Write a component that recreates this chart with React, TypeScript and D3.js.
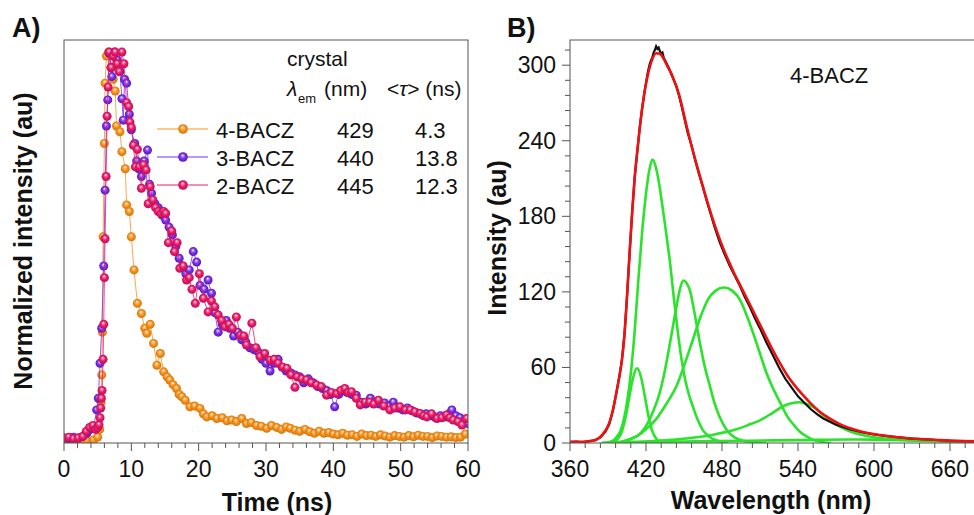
import React from "react";
import * as d3 from "d3";

const FONT = "'Liberation Sans', Arial, Helvetica, sans-serif";

// ---------------- Panel A : decay traces [time (ns), normalized intensity] ----------------
const decay4BACZ: [number, number][] = [
  [0, 0.002], [1.1, 0.002], [2.2, 0.002], [3.3, 0.002], [4.4, 0.003], [5.0, 0.01], [5.3, 0.03], [5.5, 0.1],
  [5.6, 0.17], [5.7, 0.28], [5.8, 0.525], [6.0, 0.765], [6.1, 0.92], [6.3, 0.99], [6.6, 1.0], [7.0, 0.96],
  [7.3, 0.93], [7.6, 0.9], [7.8, 0.81], [8.3, 0.795], [8.6, 0.744], [9.1, 0.7], [9.3, 0.607], [9.7, 0.59],
  [10.0, 0.525], [10.4, 0.44], [10.9, 0.354], [11.5, 0.328], [12.0, 0.29], [12.3, 0.277], [12.8, 0.3],
  [13.3, 0.251], [13.8, 0.195], [14.3, 0.225], [14.8, 0.178], [15.3, 0.165], [15.7, 0.157], [16.2, 0.145],
  [16.7, 0.135], [17.1, 0.12], [17.5, 0.114], [18.0, 0.105], [18.7, 0.088], [19.4, 0.09], [20.2, 0.084],
  [20.7, 0.07], [21.2, 0.062], [22.0, 0.065], [22.7, 0.058], [23.5, 0.06], [24.2, 0.052], [24.9, 0.054],
  [25.6, 0.05], [26.4, 0.058], [27.1, 0.045], [27.8, 0.048], [28.6, 0.04], [29.3, 0.038], [30.1, 0.033],
  [30.8, 0.04], [31.6, 0.035], [32.3, 0.03], [33.0, 0.036], [33.6, 0.033], [34.3, 0.028], [35.0, 0.025],
  [35.8, 0.03], [36.5, 0.024], [37.2, 0.02], [37.9, 0.025], [38.6, 0.02], [39.3, 0.022], [40.0, 0.018],
  [40.7, 0.016], [41.4, 0.02], [42.1, 0.015], [42.8, 0.016], [43.5, 0.012], [44.2, 0.018], [44.9, 0.014],
  [45.6, 0.015], [46.3, 0.012], [47.0, 0.016], [47.7, 0.013], [48.4, 0.01], [49.1, 0.014], [49.8, 0.012],
  [50.5, 0.01], [51.2, 0.014], [51.9, 0.011], [52.6, 0.015], [53.3, 0.012], [54.0, 0.012], [54.7, 0.009],
  [55.4, 0.013], [56.1, 0.012], [56.8, 0.01], [57.5, 0.011], [58.2, 0.009], [58.9, 0.01], [59.6, 0.018],
];

const decay3BACZ: [number, number][] = [
  [0, 0.008], [0.7, 0.006], [1.4, 0.01], [2.1, 0.008], [2.8, 0.012], [3.4, 0.02], [3.9, 0.03], [4.4, 0.035],
  [4.85, 0.08], [5.1, 0.11], [5.35, 0.2], [5.6, 0.29], [5.9, 0.45], [6.1, 0.645], [6.3, 0.81], [6.5, 0.877],
  [6.7, 0.997], [7.0, 0.96], [7.1, 0.937], [7.5, 1.0], [7.9, 0.98], [8.3, 0.95], [8.6, 0.88], [8.8, 0.825],
  [9.0, 0.93], [9.3, 0.92], [9.7, 0.84], [10.0, 0.8], [10.5, 0.765], [10.8, 0.72], [11.1, 0.7], [11.5, 0.68],
  [11.9, 0.72], [12.4, 0.748], [12.7, 0.66], [13.0, 0.637], [13.5, 0.61], [14.0, 0.6], [14.6, 0.58],
  [15.1, 0.568], [15.6, 0.55], [16.1, 0.53], [16.6, 0.5], [17.1, 0.47], [17.6, 0.45], [18.1, 0.43],
  [18.6, 0.44], [19.2, 0.487], [19.7, 0.46], [20.2, 0.4], [20.8, 0.39], [21.4, 0.414], [21.9, 0.38],
  [22.4, 0.33], [22.9, 0.28], [23.5, 0.3], [24.1, 0.31], [24.6, 0.29], [25.2, 0.27], [25.8, 0.28],
  [26.4, 0.26], [27.0, 0.255], [27.6, 0.24], [28.2, 0.235], [28.8, 0.23], [29.4, 0.21], [30.0, 0.2],
  [30.6, 0.18], [31.2, 0.2], [31.8, 0.21], [32.4, 0.19], [33.0, 0.18], [33.7, 0.175], [34.3, 0.17],
  [35.0, 0.165], [35.6, 0.15], [36.3, 0.16], [37.0, 0.15], [37.7, 0.14], [38.4, 0.135], [39.0, 0.13],
  [39.6, 0.12], [40.2, 0.088], [40.8, 0.12], [41.4, 0.13], [42.0, 0.125], [42.7, 0.12], [43.4, 0.118],
  [44.1, 0.1], [44.8, 0.095], [45.5, 0.11], [46.2, 0.1], [46.9, 0.095], [47.6, 0.098], [48.3, 0.09],
  [48.9, 0.1], [49.6, 0.085], [50.3, 0.08], [51.0, 0.085], [51.7, 0.078], [52.4, 0.072], [53.1, 0.068],
  [53.8, 0.07], [54.5, 0.065], [55.2, 0.06], [55.9, 0.065], [56.6, 0.062], [57.2, 0.07], [57.6, 0.08],
  [58.2, 0.065], [58.8, 0.06], [59.4, 0.05], [60.0, 0.045],
];

const decay2BACZ: [number, number][] = [
  [0, 0.008], [0.7, 0.01], [1.4, 0.006], [2.1, 0.008], [2.8, 0.012], [3.3, 0.025], [3.8, 0.035], [4.3, 0.04],
  [4.7, 0.03], [5.0, 0.035], [5.2, 0.042], [5.35, 0.06], [5.45, 0.085], [5.55, 0.11], [5.65, 0.13],
  [5.8, 0.21], [5.9, 0.3], [6.0, 0.42], [6.1, 0.52], [6.25, 0.68], [6.4, 0.835], [6.55, 0.91], [6.7, 1.0],
  [7.0, 0.96], [7.3, 0.99], [7.6, 1.0], [7.9, 0.97], [8.2, 0.95], [8.6, 1.0], [8.9, 0.97], [9.3, 0.87],
  [9.6, 0.86], [9.8, 0.82], [10.0, 0.806], [10.3, 0.76], [10.6, 0.705], [10.9, 0.75], [11.2, 0.705],
  [11.5, 0.65], [11.8, 0.71], [12.2, 0.697], [12.5, 0.61], [12.8, 0.654], [13.2, 0.62], [13.6, 0.6],
  [14.0, 0.59], [14.4, 0.585], [14.8, 0.59], [15.1, 0.585], [15.5, 0.51], [16.0, 0.54], [16.4, 0.487],
  [16.8, 0.51], [17.2, 0.444], [17.7, 0.45], [18.2, 0.414], [18.6, 0.42], [19.0, 0.39], [19.5, 0.354],
  [20.1, 0.43], [20.7, 0.367], [21.4, 0.332], [21.9, 0.36], [22.4, 0.345], [22.9, 0.324], [23.4, 0.31],
  [23.9, 0.294], [24.5, 0.3], [25.0, 0.29], [25.6, 0.319], [26.2, 0.272], [26.7, 0.27], [27.1, 0.247],
  [27.9, 0.303], [28.5, 0.24], [29.1, 0.217], [29.8, 0.225], [30.6, 0.208], [31.2, 0.21], [31.8, 0.2],
  [32.5, 0.19], [33.1, 0.187], [33.7, 0.17], [34.3, 0.138], [34.6, 0.165], [35.3, 0.16], [36.0, 0.157],
  [36.7, 0.15], [37.5, 0.144], [38.2, 0.14], [39.0, 0.118], [39.7, 0.125], [40.5, 0.122], [41.1, 0.13],
  [41.7, 0.135], [42.2, 0.125], [42.7, 0.127], [43.4, 0.11], [44.0, 0.093], [44.7, 0.1], [45.4, 0.1],
  [46.0, 0.095], [46.7, 0.105], [47.5, 0.09], [48.4, 0.08], [49.1, 0.085], [49.9, 0.088], [50.7, 0.08],
  [51.4, 0.08], [52.1, 0.075], [52.9, 0.071], [53.4, 0.065], [53.9, 0.062], [54.6, 0.07], [55.4, 0.058],
  [56.1, 0.06], [56.8, 0.067], [57.3, 0.06], [57.8, 0.054], [58.5, 0.05], [59.1, 0.041], [59.8, 0.058],
];

const legendNames = ["4-BACZ", "3-BACZ", "2-BACZ"];
const legendLambda = ["429", "440", "445"];
const legendTau = ["4.3", "13.8", "12.3"];
const timeTicks = [0, 10, 20, 30, 40, 50, 60];

// ---------------- Panel B : emission spectrum [wavelength (nm), intensity] ----------------
const wavelengthTicks = [360, 420, 480, 540, 600, 660];
const intensityTicks = [0, 60, 120, 180, 240, 300];

const measured: [number, number][] = [
  [360, 0.8], [365, 1.2], [370, 0.6], [375, 1.5], [380, 2.2], [384, 4.5], [388, 9], [391, 15], [394, 26],
  [397, 42], [399, 53], [401, 66], [403, 86], [405, 116], [407, 150], [409, 182], [411, 210], [413, 230],
  [415, 250], [417, 266], [419, 280], [420, 286], [421, 292], [422, 297], [423, 301], [424, 304], [425, 306],
  [426, 310], [427, 312], [428, 315], [429, 313], [430, 314], [431, 311], [432, 309], [433, 310], [434, 306],
  [436, 302], [438, 298], [440, 293], [442, 288], [444, 283], [446, 276], [448, 268], [450, 259], [453, 246],
  [456, 236], [459, 224], [462, 213], [465, 203], [468, 192], [471, 182], [474, 172], [478, 160], [482, 150],
  [486, 141], [490, 133], [494, 125], [498, 116], [502, 108], [506, 99], [510, 91], [515, 80], [520, 70],
  [525, 60], [530, 51], [535, 44], [540, 37], [545, 32], [550, 27], [555, 23], [560, 19.5], [570, 14.5],
  [580, 11.2], [590, 8.6], [600, 6.8], [610, 5.4], [620, 4.5], [630, 3.5], [640, 3], [650, 2.4], [660, 1.8],
  [670, 1.5], [680, 1.2],
];

const fitTotal: [number, number][] = [
  [360, 1], [370, 1], [376, 1.5], [380, 2.4], [384, 5], [388, 10], [391, 16], [394, 27], [397, 42], [399, 53],
  [401, 66], [403, 86], [405, 116], [407, 150], [409, 182], [411, 210], [414, 240], [417, 266], [420, 285],
  [424, 302], [428, 309.5], [431, 309], [434, 305], [437, 299], [441, 291], [446, 277], [452, 252],
  [457, 232], [462, 214], [468, 193], [472, 180], [476, 168], [480, 157], [485, 145], [490, 134], [495, 124],
  [500, 114], [505, 104], [510, 94], [515, 84], [520, 74], [526, 63], [532, 53], [538, 45], [544, 38],
  [550, 31.5], [557, 25], [565, 19.5], [573, 15], [582, 11.5], [592, 8.6], [605, 6.3], [620, 4.4],
  [635, 3.2], [650, 2.4], [665, 1.7], [680, 1.3],
];

const band413: [number, number][] = [
  [392, 0], [395, 0.8], [398, 3.5], [401, 9.3], [404, 21], [407, 37.6], [410, 52.6], [413, 59.3], [416, 52.6],
  [419, 37.6], [422, 21], [425, 9.3], [428, 3.5], [431, 1], [436, 0],
];

const band425: [number, number][] = [
  [385, 0], [392, 1], [397, 5], [400, 10], [403, 21], [405, 32], [408, 55], [411, 88], [414, 130], [417, 168],
  [420, 198], [422.5, 216], [425, 225], [427.5, 220], [430, 208], [433, 188], [436, 166], [439, 143],
  [442, 115], [445, 89], [448, 67], [451, 50], [454, 38], [457, 29], [461, 18], [465, 10], [470, 5], [476, 2],
  [485, 0],
];

const band449: [number, number][] = [
  [400, 0], [410, 4], [416, 8], [422, 17], [426, 26], [430, 37], [434, 53], [438, 74], [441, 91], [444, 108],
  [447, 123], [449.5, 129], [452, 127], [455, 120], [458, 105], [461, 88], [464, 72], [467, 58], [470, 47],
  [474, 32], [478, 21], [484, 10], [490, 4.5], [496, 2], [505, 0.5], [515, 0],
];

const band482: [number, number][] = [
  [395, 0], [400, 1], [405, 2.4], [412, 5], [420, 11], [428, 19], [436, 31], [444, 45], [451, 64], [457, 82],
  [463, 100], [469, 114], [475, 121], [481.5, 123.5], [488, 121], [494, 114], [500, 100], [505, 86],
  [510, 71], [515, 56], [520, 44], [526, 32], [531, 22], [537, 14], [542, 8.5], [547, 5], [552, 2.5],
  [558, 1], [566, 0],
];

const band541: [number, number][] = [
  [395, 0.3], [420, 1.2], [440, 2.5], [460, 4.5], [475, 7], [490, 10.5], [500, 14], [510, 18], [520, 24],
  [528, 29], [535, 31.5], [541, 32.3], [547, 31], [553, 28], [560, 22], [567, 17], [574, 12.5], [582, 9],
  [590, 6.5], [600, 4.5], [612, 3.2], [625, 2.2], [640, 1.6], [660, 1], [680, 0.6],
];

const band590: [number, number][] = [
  [385, 0], [400, 0.5], [420, 0.9], [460, 1.3], [500, 1.8], [540, 2.3], [580, 2.8], [600, 2.7], [640, 2],
  [680, 1.2],
];

const bands = [band413, band425, band449, band482, band541, band590];

// ---------------- styling ----------------
const seriesColors = ["#F7931E", "#7B2FE6", "#EC1C6C"];
const seriesDark = ["#D06E05", "#5315B5", "#B80B4E"];
const seriesLight = ["#FBC27A", "#B690F5", "#F57FAB"];

export default function App() {
  // Panel A scales
  const xA = d3.scaleLinear().domain([0, 60]).range([64, 468]);
  const yA = d3.scaleLinear().domain([-0.005, 1.031]).range([443, 40]);
  // Panel B scales
  const xB = d3.scaleLinear().domain([360, 680]).range([570, 975.3]);
  const yB = d3.scaleLinear().domain([0, 320]).range([443, 40]);

  const lineA = d3.line<[number, number]>().x((d) => xA(d[0])).y((d) => yA(d[1]));
  const lineB = d3
    .line<[number, number]>()
    .x((d) => xB(d[0]))
    .y((d) => yB(d[1]))
    .curve(d3.curveMonotoneX);
  const lineBraw = d3.line<[number, number]>().x((d) => xB(d[0])).y((d) => yB(d[1]));

  const decays = [decay4BACZ, decay3BACZ, decay2BACZ];

  const minorA = d3.range(0, 60.001, 2);
  const minorBx = d3.range(360, 680.001, 12);
  const minorBy = d3.range(0, 320.001, 12);

  const axisColor = "#555";

  return (
    <svg
      width={974}
      height={515}
      style={{ position: "absolute", left: 0, top: 0, background: "#fff" }}
      fontFamily={FONT}
    >
      <defs>
        {seriesColors.map((c, i) => (
          <radialGradient key={i} id={`ball${i}`} cx="50%" cy="50%" r="55%" fx="45%" fy="32%">
            <stop offset="0%" stopColor="#ffffff" />
            <stop offset="20%" stopColor={seriesLight[i]} />
            <stop offset="50%" stopColor={c} />
            <stop offset="100%" stopColor={seriesDark[i]} />
          </radialGradient>
        ))}
        <clipPath id="clipA">
          <rect x={64} y={40} width={404} height={403} />
        </clipPath>
        <clipPath id="clipB">
          <rect x={570} y={40} width={405.3} height={403} />
        </clipPath>
      </defs>
      <rect x={0} y={0} width={974} height={515} fill="#fff" />

      {/* ================= Panel A ================= */}
      <g clipPath="url(#clipA)">
        {decays.map((data, i) => (
          <g key={i}>
            <path d={lineA(data) || ""} fill="none" stroke={seriesColors[i]} strokeWidth={1} opacity={0.8} />
            {data.map((d, j) => (
              <circle key={j} cx={xA(d[0])} cy={yA(d[1])} r={4.5} fill={`url(#ball${i})`} />
            ))}
          </g>
        ))}
      </g>
      <rect x={64} y={40} width={404} height={403} fill="none" stroke={axisColor} strokeWidth={1} />
      {minorA.map((t) => (
        <line
          key={t}
          x1={xA(t)}
          x2={xA(t)}
          y1={443}
          y2={t % 10 === 0 ? 451 : 448}
          stroke={axisColor}
          strokeWidth={1}
        />
      ))}
      {timeTicks.map((t) => (
        <text key={t} x={xA(t)} y={477} textAnchor="middle" fontSize={23} fill="#111">
          {t}
        </text>
      ))}
      <text x={277} y={511} textAnchor="middle" fontSize={25} fontWeight="bold" fill="#111">
        Time (ns)
      </text>
      <text
        transform="translate(32,241) rotate(-90)"
        textAnchor="middle"
        fontSize={25}
        fontWeight="bold"
        fill="#111"
      >
        Normalized intensity (au)
      </text>
      <text x={12} y={37} fontSize={27} fontWeight="bold" fill="#111">
        A)
      </text>

      {/* legend A */}
      <text x={287} y={66} fontSize={21} fill="#111">
        crystal
      </text>
      <text x={287} y={96} fontSize={21} fill="#111">
        <tspan fontStyle="italic">λ</tspan>
      </text>
      <text x={298} y={103} fontSize={13} fill="#111">
        em
      </text>
      <text x={324} y={96} fontSize={21} fill="#111">
        (nm)
      </text>
      <text x={387} y={96} fontSize={21} fill="#111">
        {"<"}
        <tspan fontStyle="italic">τ</tspan>
        {"> (ns)"}
      </text>
      {legendNames.map((n, i) => {
        const yc = 129 + i * 28;
        return (
          <g key={n}>
            <line x1={157} x2={208} y1={yc} y2={yc} stroke={seriesColors[i]} strokeWidth={1.2} />
            <circle cx={183} cy={yc} r={4.8} fill={`url(#ball${i})`} />
            <text x={216} y={yc + 9} fontSize={22} fill="#111">
              {n}
            </text>
            <text x={337} y={yc + 9} fontSize={22} fill="#111">
              {legendLambda[i]}
            </text>
            <text x={415} y={yc + 9} fontSize={22} fill="#111">
              {legendTau[i]}
            </text>
          </g>
        );
      })}

      {/* ================= Panel B ================= */}
      <g clipPath="url(#clipB)">
        {bands.map((b, i) => (
          <path key={i} d={lineB(b) || ""} fill="none" stroke="#2BE32B" strokeWidth={2.6} />
        ))}
        <path d={lineBraw(measured) || ""} fill="none" stroke="#111" strokeWidth={2.2} />
        <path d={lineB(fitTotal) || ""} fill="none" stroke="#EE1111" strokeWidth={2.6} />
      </g>
      <rect x={570} y={40} width={405.3} height={403} fill="none" stroke={axisColor} strokeWidth={1} />
      {minorBx.map((w) => (
        <line
          key={w}
          x1={xB(w)}
          x2={xB(w)}
          y1={443}
          y2={(w - 360) % 60 === 0 ? 451 : 448}
          stroke={axisColor}
          strokeWidth={1}
        />
      ))}
      {minorBy.map((v) => (
        <line
          key={v}
          x1={570}
          x2={v % 60 === 0 ? 562 : 565}
          y1={yB(v)}
          y2={yB(v)}
          stroke={axisColor}
          strokeWidth={1}
        />
      ))}
      {wavelengthTicks.map((w) => (
        <text key={w} x={xB(w)} y={477} textAnchor="middle" fontSize={23} fill="#111">
          {w}
        </text>
      ))}
      {intensityTicks.map((v) => (
        <text key={v} x={556} y={yB(v) + 8} textAnchor="end" fontSize={23} fill="#111">
          {v}
        </text>
      ))}
      <text x={771} y={509} textAnchor="middle" fontSize={25} fontWeight="bold" fill="#111">
        Wavelength (nm)
      </text>
      <text
        transform="translate(506,238) rotate(-90)"
        textAnchor="middle"
        fontSize={25}
        fontWeight="bold"
        fill="#111"
      >
        Intensity (au)
      </text>
      <text x={507} y={37} fontSize={27} fontWeight="bold" fill="#111">
        B)
      </text>
      <text x={790} y={83} fontSize={22} fill="#111">
        4-BACZ
      </text>
    </svg>
  );
}
